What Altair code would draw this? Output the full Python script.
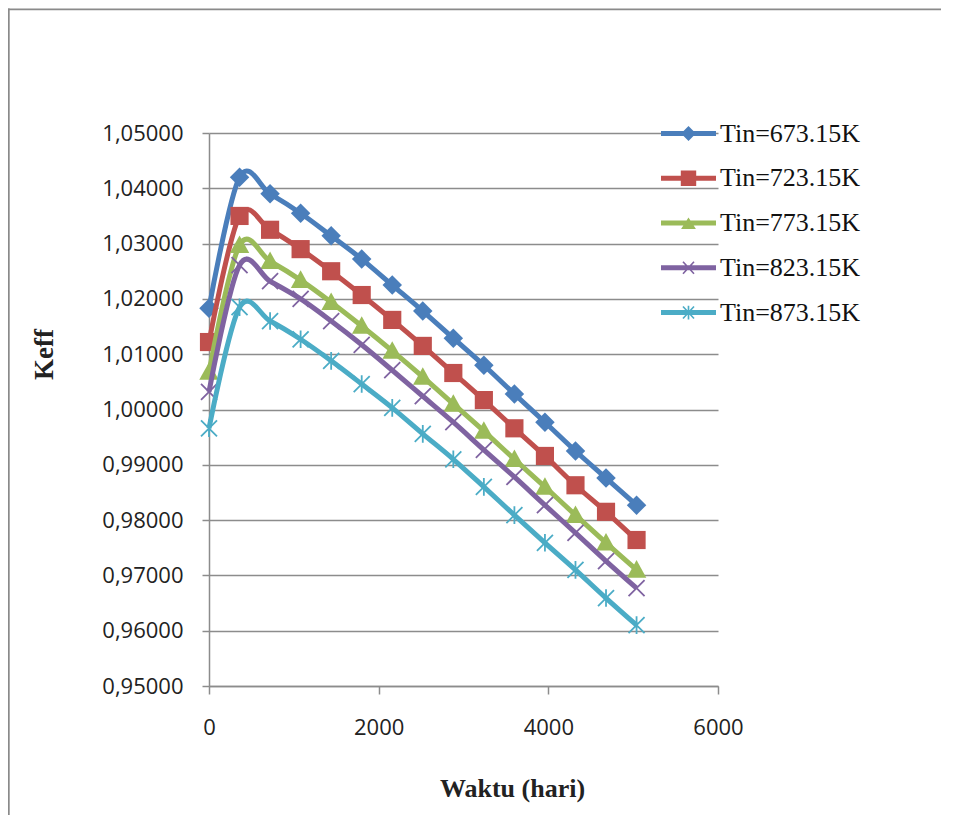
import altair as alt
import pandas as pd

# ---------------- data ----------------
days = [0, 360, 720, 1080, 1440, 1800, 2160, 2520, 2880, 3240, 3600, 3960, 4320, 4680, 5040]
series_names = ["Tin=673.15K", "Tin=723.15K", "Tin=773.15K", "Tin=823.15K", "Tin=873.15K"]
keff_673 = [1.0183, 1.0420, 1.0390, 1.0355, 1.0314, 1.0272, 1.0225, 1.0178, 1.0129, 1.0080, 1.0028, 0.9977, 0.9925, 0.9876, 0.9827]
keff_723 = [1.0122, 1.0350, 1.0325, 1.0290, 1.0250, 1.0207, 1.0162, 1.0115, 1.0066, 1.0017, 0.9966, 0.9916, 0.9863, 0.9815, 0.9764]
keff_773 = [1.0068, 1.0297, 1.0268, 1.0234, 1.0194, 1.0151, 1.0106, 1.0059, 1.0010, 0.9961, 0.9910, 0.9860, 0.9809, 0.9759, 0.9710]
keff_823 = [1.0032, 1.0261, 1.0232, 1.0200, 1.0160, 1.0117, 1.0071, 1.0024, 0.9977, 0.9927, 0.9878, 0.9827, 0.9777, 0.9726, 0.9677]
keff_873 = [0.9966, 1.0185, 1.0160, 1.0127, 1.0088, 1.0046, 1.0003, 0.9956, 0.9910, 0.9860, 0.9809, 0.9759, 0.9710, 0.9659, 0.9610]
y_ticks = [0.95, 0.96, 0.97, 0.98, 0.99, 1.00, 1.01, 1.02, 1.03, 1.04, 1.05]
x_ticks = [0, 2000, 4000, 6000]

all_series = [keff_673, keff_723, keff_773, keff_823, keff_873]
rows = []
for name, vals in zip(series_names, all_series):
    for d, v in zip(days, vals):
        rows.append({"series": name, "hari": d, "keff": v})
df = pd.DataFrame(rows)

# ---------------- styles ----------------
colors = ["#4A7EBB", "#C0504D", "#9BBB59", "#7F63A1", "#4BACC6"]
GRID = "#8c8c8c"
W, H = 509, 553
PAD = {"left": 201, "top": 125, "right": 226, "bottom": 132}


def poly(pts):
    area = 0.0
    for i in range(len(pts)):
        x0, y0 = pts[i]
        x1, y1 = pts[(i + 1) % len(pts)]
        area += x0 * y1 - x1 * y0
    if area < 0:
        pts = pts[::-1]
    return "M" + "L".join(f"{x:.3f},{y:.3f}" for x, y in pts) + "Z"


def bar(x0, y0, x1, y1, t):
    dx, dy = x1 - x0, y1 - y0
    ln = (dx * dx + dy * dy) ** 0.5
    px, py = -dy / ln * t, dx / ln * t
    return poly([(x0 + px, y0 + py), (x1 + px, y1 + py), (x1 - px, y1 - py), (x0 - px, y0 - py)])


mk_diamond = "M0,-1L1,0L0,1L-1,0Z"
mk_square = "M-1,-1L1,-1L1,1L-1,1Z"
mk_triangle = "M0,-1L1,0.8L-1,0.8Z"
mk_x = "M-1,-1L1,1M-1,1L1,-1"
mk_star = "M-1,-1L1,1M-1,1L1,-1M0,-1.1L0,1.1"
markers = [
    dict(shape=mk_diamond, size=380, filled=True),
    dict(shape=mk_square, size=330, filled=True),
    dict(shape=mk_triangle, size=380, filled=True),
    dict(shape=mk_x, size=256, filled=False),
    dict(shape=mk_star, size=256, filled=False),
]

lg_line = bar(-1, 0, 1, 0, 0.09)
lg_shapes = [
    lg_line + poly([(0, -0.27), (0.27, 0), (0, 0.27), (-0.27, 0)]),
    lg_line + poly([(-0.28, -0.28), (0.28, -0.28), (0.28, 0.28), (-0.28, 0.28)]),
    lg_line + poly([(0, -0.2), (0.27, 0.22), (-0.27, 0.22)]),
    lg_line + bar(-0.2, -0.22, 0.2, 0.22, 0.03) + bar(-0.2, 0.22, 0.2, -0.22, 0.03),
    lg_line + bar(-0.2, -0.22, 0.2, 0.22, 0.03) + bar(-0.2, 0.22, 0.2, -0.22, 0.03) + bar(0, -0.25, 0, 0.25, 0.03),
]

x_enc = alt.X(
    "hari:Q",
    scale=alt.Scale(domain=[0, 6000], nice=False, zero=False),
    axis=alt.Axis(
        values=x_ticks, format="d", grid=False, labelFlush=False, labelOverlap=False,
        domainColor=GRID, domainWidth=1.5, tickColor=GRID, tickWidth=1.5, tickSize=8,
        labelFont="Open Sans", labelFontSize=22, labelColor="#222222", labelPadding=23,
        title="Waktu (hari)", titleFont="Liberation Serif", titleFontSize=26,
        titleFontWeight="bold", titleColor="#222222", titleX=303, titleY=102,
        titleAlign="center", titleBaseline="middle",
    ),
)
y_enc = alt.Y(
    "keff:Q",
    scale=alt.Scale(domain=[0.95, 1.05], nice=False, zero=False),
    axis=alt.Axis(
        values=y_ticks, labelExpr="replace(format(datum.value, '.5f'), '.', ',')",
        grid=True, gridColor=GRID, gridWidth=1.5, labelOverlap=False,
        domainColor=GRID, domainWidth=1.5, tickColor=GRID, tickWidth=1.5, tickSize=7,
        labelFont="Open Sans", labelFontSize=22, labelColor="#222222", labelPadding=19,
        title="Keff", titleFont="Liberation Serif", titleFontSize=27,
        titleFontWeight="bold", titleColor="#222222", titleX=-165, titleY=221,
        titleAngle=270, titleAlign="center", titleBaseline="middle",
    ),
)

base = alt.Chart(df)
layers = []

# decorative frame: thin filled bars along the top and left edges, kept inside the canvas
frame_src = alt.Chart(pd.DataFrame({"a": [0]}))
layers.append(
    frame_src.mark_rect(color="#8a8a8a", strokeWidth=0).encode(
        x=alt.value(-201), x2=alt.value(-199.3), y=alt.value(-124.5), y2=alt.value(H + PAD["bottom"] - 3)
    )
)
layers.append(
    frame_src.mark_rect(color="#8a8a8a", strokeWidth=0).encode(
        x=alt.value(-201), x2=alt.value(W + PAD["right"] - 3), y=alt.value(-124.5), y2=alt.value(-122.7)
    )
)

for name, col, mk in zip(series_names, colors, markers):
    sub = base.transform_filter(alt.datum.series == name)
    layers.append(
        sub.mark_line(interpolate="cardinal", tension=0, strokeWidth=5, color=col).encode(x=x_enc, y=y_enc)
    )
    if mk["filled"]:
        pt = sub.mark_point(shape=mk["shape"], size=mk["size"], filled=True, color=col, opacity=1, strokeWidth=0)
    else:
        pt = sub.mark_point(shape=mk["shape"], size=mk["size"], filled=False, color=col, opacity=1, strokeWidth=1.8)
    layers.append(pt.encode(x=x_enc, y=y_enc))

legend = alt.Legend(
    title=None, orient="none", legendX=452, legendY=-27, padding=0,
    symbolSize=3025, symbolStrokeWidth=0, symbolOpacity=1,
    labelFont="Liberation Serif", labelFontSize=26, labelColor="#111111",
    labelOffset=4, labelLimit=400, rowPadding=3.75,
)
legend_layer = base.transform_filter("false").mark_point(filled=True, opacity=1).encode(
    x=x_enc, y=y_enc,
    color=alt.Color("series:N", scale=alt.Scale(domain=series_names, range=colors), legend=legend),
    shape=alt.Shape("series:N", scale=alt.Scale(domain=series_names, range=lg_shapes), legend=legend),
)
layers.append(legend_layer)

chart = alt.layer(*layers).properties(
    width=W, height=H,
    autosize=alt.AutoSizeParams(type="none"),
    padding=PAD,
).configure_view(stroke=None)

chart.save("out.html", embed_options={"renderer": "svg", "actions": False})
